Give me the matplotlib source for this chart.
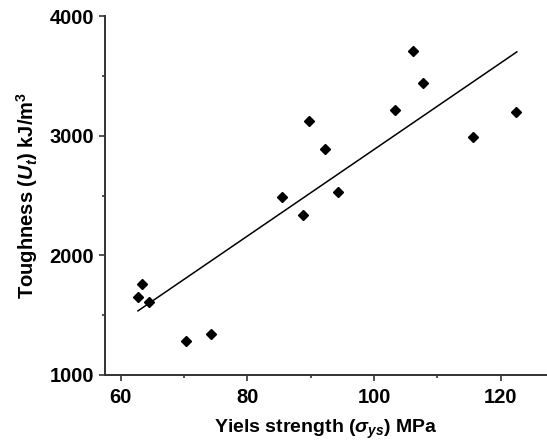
import numpy as np
import matplotlib
matplotlib.use("Agg")
import matplotlib.pyplot as plt
from matplotlib.ticker import MultipleLocator

# yield strength (MPa) vs toughness (kJ/m3) for the 15 samples
yield_strength = [62.75, 63.41, 64.57, 70.35, 74.31, 85.49, 88.79, 89.78,
                  92.31, 94.30, 103.27, 106.13, 107.67, 115.66, 122.43]
toughness = [1654, 1757, 1606, 1282, 1341, 2489, 2338, 3126,
             2885, 2531, 3215, 3709, 3444, 2986, 3198]

# linear trend, end points
fit_x = [62.75, 122.54]
fit_y = [1536, 3701]

plt.rcParams["font.family"] = "Liberation Sans"
plt.rcParams["font.weight"] = "bold"
plt.rcParams["mathtext.fontset"] = "custom"
plt.rcParams["mathtext.rm"] = "Liberation Sans:bold"
plt.rcParams["mathtext.it"] = "Liberation Sans:italic:bold"
plt.rcParams["mathtext.bf"] = "Liberation Sans:bold"

axis_col = "#333333"

fig = plt.figure(figsize=(5.47, 4.48), dpi=100)
ax = fig.add_axes([0.1914, 0.163, 1 - 0.1914, 0.964 - 0.163])

ax.plot(fit_x, fit_y, color="black", lw=1.1)
ax.plot(yield_strength, toughness, "D", color="black", markersize=5.3, mec="black")

ax.set_xlim(57.5, 127.3)
ax.set_ylim(1000, 4000)
ax.xaxis.set_major_locator(MultipleLocator(20))
ax.xaxis.set_minor_locator(MultipleLocator(10))
ax.yaxis.set_major_locator(MultipleLocator(1000))
ax.yaxis.set_minor_locator(MultipleLocator(500))

for side in ["top", "right"]:
    ax.spines[side].set_visible(False)
for side in ["left", "bottom"]:
    ax.spines[side].set_color(axis_col)
    ax.spines[side].set_linewidth(1.4)

ax.tick_params(which="major", direction="out", length=4.5, width=1.2,
               color=axis_col, labelsize=14.5)
ax.tick_params(axis="x", which="major", pad=5)
ax.tick_params(axis="y", which="major", pad=3)
ax.tick_params(which="minor", direction="out", length=2.5, width=1.2,
               color=axis_col)
for lab in ax.get_xticklabels() + ax.get_yticklabels():
    lab.set_fontweight("bold")

ax.set_xlabel(r"Yiels strength ($\sigma_{ys}$) MPa", fontsize=14,
              fontweight="bold", labelpad=8)
ax.set_ylabel(r"Toughness ($U_t$) kJ/m$^3$", fontsize=14.5,
              fontweight="bold", labelpad=7)

fig.savefig("out.png", dpi=100)
